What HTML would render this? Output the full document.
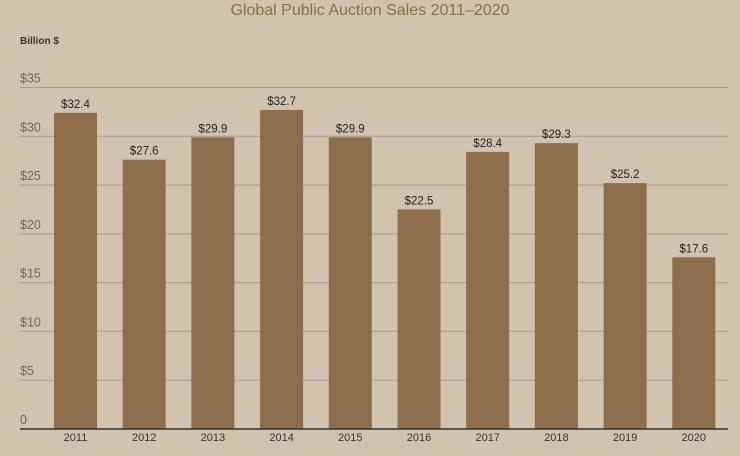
<!DOCTYPE html>
<html><head><meta charset="utf-8"><style>
body{margin:0;background:#d2c2b0;}
svg{display:block;font-family:"Liberation Sans",sans-serif;}
</style></head><body>
<svg id="c" width="740" height="456">
<text x="370" y="15" text-anchor="middle" font-size="16" fill="#8a6d4c">Global Public Auction Sales 2011–2020</text>
<text x="20" y="44" font-size="10" font-weight="bold" fill="#333">Billion $</text>
<g id="grid"></g><g id="bars"></g>
</svg>
<script>
const categories=["2011","2012","2013","2014","2015","2016","2017","2018","2019","2020"];
const values=[32.4,27.6,29.9,32.7,29.9,22.5,28.4,29.3,25.2,17.6];
const valueLabels=["$32.4","$27.6","$29.9","$32.7","$29.9","$22.5","$28.4","$29.3","$25.2","$17.6"];
const ticks=[0,5,10,15,20,25,30,35];
const tickLabels=["0","$5","$10","$15","$20","$25","$30","$35"];
const NS="http://www.w3.org/2000/svg";
const y0=429,yTop=87.5,vmax=35;
const y=v=>y0-(v/vmax)*(y0-yTop);
const x=i=>75.5+i*68.7;
const bw=43;
function mk(t,a,p){const e=document.createElementNS(NS,t);for(const k in a)e.setAttribute(k,a[k]);p.appendChild(e);return e;}
const g=document.getElementById('grid'),b=document.getElementById('bars');
ticks.forEach((t,i)=>{
  if(t>0){const l=mk('line',{x1:20,x2:728,y1:y(t),y2:y(t),stroke:'#a8998a','stroke-width':1},g);
  
  }
  const tx=mk('text',{x:20,y:y(t)-5,'font-size':12.5,fill:'#6e6358'},g);tx.textContent=tickLabels[i];
  
  
});
categories.forEach((c,i)=>{
  const r=mk('rect',{x:x(i)-bw/2,y:y(values[i]),width:bw,height:y0-y(values[i]),fill:'#8e6e4a'},b);
  
  
  const v=mk('text',{x:x(i),y:y(values[i])-5,'text-anchor':'middle','font-size':11.5,fill:'#222'},b);v.textContent=valueLabels[i];
  
  
  const t=mk('text',{x:x(i),y:441,'text-anchor':'middle','font-size':11,fill:'#333'},b);t.textContent=c;
  
  
});
const ax=mk('line',{x1:20,x2:728,y1:y0,y2:y0,stroke:'#333','stroke-width':1.5},b);


</script>
</body></html>
